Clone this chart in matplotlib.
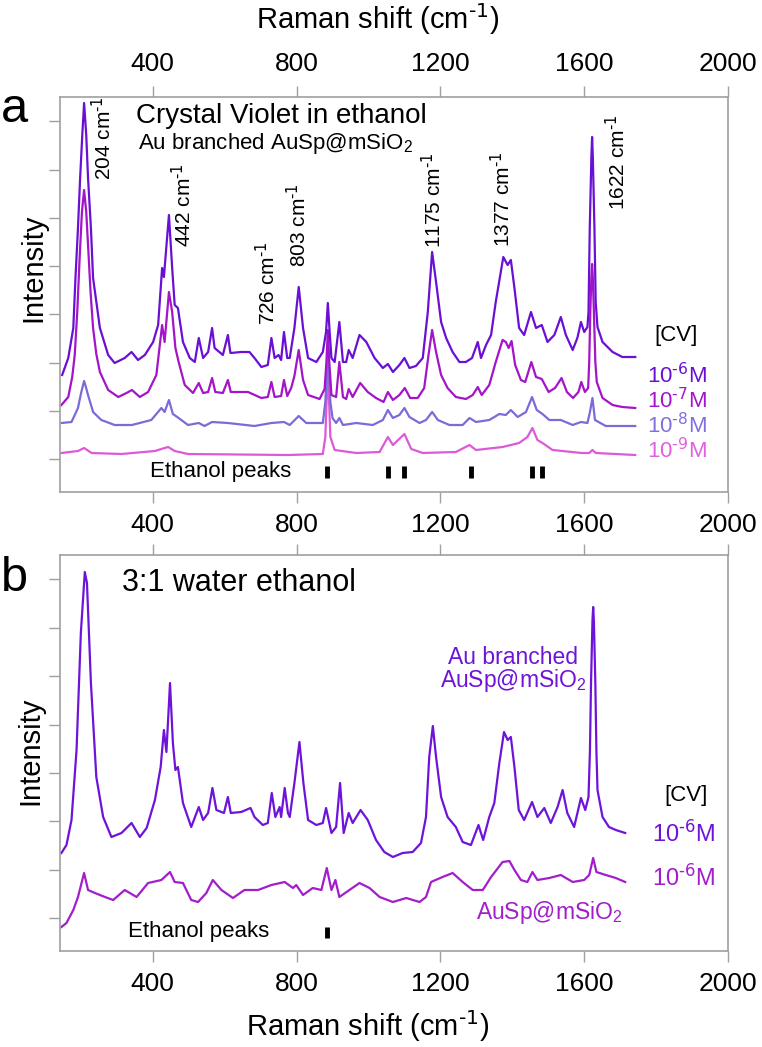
import matplotlib
matplotlib.use("Agg")
import matplotlib.pyplot as plt

plt.rcParams['font.family'] = ['Liberation Sans', 'DejaVu Sans']
plt.rcParams['mathtext.default'] = 'regular'

# ---------------- data ----------------
# Panel a: Crystal violet in ethanol, Au branched AuSp@mSiO2
a6_x = [148,165,179,185,192,198,204,209,215,220,228,234,253,276,294,322,341,359,378,401,415,426,431,445,454,461,470,484,503,517,528,540,554,565,572,595,609,616,646,669,683,702,720,730,739,750,757,765,774,781,794,806,818,832,855,873,882,887,892,897,906,919,929,938,945,956,975,994,1017,1040,1054,1068,1086,1100,1114,1132,1151,1165,1177,1188,1202,1216,1234,1253,1271,1288,1304,1313,1327,1341,1354,1375,1387,1396,1406,1419,1433,1452,1466,1482,1498,1517,1535,1549,1568,1581,1591,1600,1609,1612,1615.5,1620,1622,1624,1628.5,1632,1637,1651,1679,1706,1742]
a6_y = [117,134,164,214,264,314,357,389,357,314,264,214,164,137,129,134,140,132,137,150,167,224,215,277,224,187,184,150,134,130,154,134,140,164,144,137,157,139,140,140,134,125,127,154,134,137,132,160,134,134,164,205,164,134,130,140,160,189,160,134,130,170,130,130,142,134,157,150,134,124,128,120,127,134,124,126,134,180,240,210,170,154,140,130,130,134,150,134,147,157,190,235,227,232,204,164,157,180,164,167,150,157,175,157,142,154,170,160,165,180,264,335,355,335,264,190,165,150,140,135,135]

a7_x = [146,165,176,183,190,197,203,209,215,220,227,234,243,253,276,304,327,342,364,387,410,426,433,445,454,463,472,489,512,528,540,554,565,574,595,609,617,665,702,720,730,739,757,765,774,785,794,806,818,832,864,878,883,887,891,897,910,919,929,938,945,956,977,998,1021,1042,1054,1068,1086,1101,1116,1137,1155,1167,1177,1188,1202,1220,1243,1271,1290,1304,1315,1336,1354,1373,1382,1390,1398,1408,1424,1436,1453,1466,1482,1501,1519,1537,1552,1569,1584,1592,1602,1611,1614,1617,1620,1622,1624,1627,1631,1635,1651,1679,1706,1742]
a7_y = [87,95,115,137,180,237,280,302,280,247,200,164,138,120,102,95,99,102,95,100,117,167,150,200,180,144,130,107,99,109,99,100,114,100,99,112,100,100,94,95,110,95,96,112,96,104,116,142,112,97,93,103,130,162,130,97,95,130,95,93,103,95,109,100,94,90,100,92,97,104,94,94,104,137,162,140,117,104,95,93,97,105,97,107,130,152,150,144,151,127,112,110,130,115,113,100,104,114,100,94,100,110,100,104,130,180,215,228,215,180,130,110,94,87,85,84]

a8_x = [146,174,192,200,209,214,220,234,257,294,342,396,424,433,445,456,472,498,528,544,565,609,683,730,765,781,806,827,873,880,884,887,890,894,900,910,919,929,966,1012,1040,1054,1068,1086,1100,1114,1142,1160,1177,1193,1225,1262,1281,1299,1336,1364,1382,1396,1415,1438,1455,1468,1484,1503,1535,1568,1591,1609,1616,1623,1630,1660,1742]
a8_y = [69,70,84,98,111,105,97,80,72,67,67,72,84,80,92,78,74,67,69,66,70,69,66,69,70,67,76,69,69,90,120,145,120,90,74,69,74,67,69,67,72,82,74,77,84,75,69,72,80,72,67,67,74,70,72,78,77,82,75,80,95,82,78,72,72,67,70,69,80,94,72,66,66]

a9_x = [146,192,209,230,313,406,433,443,461,498,776,873,880,884,887,890,894,906,966,1031,1054,1068,1100,1119,1151,1243,1281,1299,1373,1419,1442,1456,1470,1484,1512,1593,1614,1623,1632,1742]
a9_y = [39,41,44,39,38,41,44,45,41,38,37,38,55,95,132,95,55,42,39,40,55,47,58,43,39,40,47,42,45,49,55,64,52,49,42,39,39,42,39,37]

# Panel b: 3:1 water ethanol
b1_x = [146,160,174,188,200,211,217,228,243,262,285,313,341,364,383,406,422,431,438,448,456,463,470,484,507,528,540,554,566,577,598,609,617,646,672,683,706,720,731,741,753,757,767,776,781,794,808,819,832,855,873,882,897,910,921,931,945,956,978,998,1021,1044,1068,1095,1123,1146,1160,1169,1179,1188,1202,1220,1243,1262,1285,1306,1319,1336,1350,1364,1377,1387,1396,1406,1418,1433,1455,1470,1489,1507,1526,1540,1553,1572,1591,1603,1612,1616,1619,1623,1625,1627,1631,1634,1637,1651,1669,1688,1714]
b1_y = [78,86,111,181,298,359,348,248,154,114,94,98,108,94,103,131,164,201,179,248,188,161,164,128,104,124,111,118,143,121,118,134,118,119,123,114,106,108,138,114,124,114,143,118,114,148,189,148,111,106,108,123,98,104,148,98,118,108,121,111,91,79,74,78,79,88,114,174,205,174,134,114,104,89,86,106,91,114,128,168,199,191,194,164,121,111,129,114,123,108,124,141,118,104,133,121,134,180,248,310,324,310,248,180,141,114,104,101,98]

b2_x = [146,160,179,192,209,220,239,267,290,322,355,387,424,448,461,484,507,526,549,567,591,623,655,693,730,767,790,799,818,845,869,884,897,908,919,947,975,1003,1031,1068,1105,1142,1160,1174,1206,1234,1262,1290,1318,1341,1373,1392,1406,1424,1442,1456,1470,1503,1535,1568,1600,1614,1625,1634,1660,1688,1714]
b2_y = [4,8,21,34,58,41,38,34,31,41,34,48,51,59,49,48,31,29,38,51,41,33,41,41,46,49,43,46,36,43,41,63,41,51,34,41,48,43,34,29,33,29,34,49,54,58,49,41,41,54,69,70,61,51,49,59,51,53,56,49,51,56,73,59,56,53,49]

ethanol_peaks_a = [885, 1055, 1100, 1285, 1455, 1483]
ethanol_peaks_b = [886]

peak_labels = ['204', '442', '726', '803', '1175', '1377', '1622']
conc_labels = ['-6', '-7', '-8', '-9']
xticks = [400, 800, 1200, 1600, 2000]
yticks_a = [33, 81, 129, 178, 226, 274, 322, 371]
yticks_b = [13, 61, 110, 158, 206, 255, 303, 352]

# ---------------- styling ----------------
C6 = '#6a10d4'
C7 = '#a414c8'
C8 = '#7c6ad8'
C9 = '#dc5ad8'
CB1 = '#6e14d8'
CB2 = '#a31ecb'
FRAME = '#a0a0a0'
LW = 1.6

W, H = 762, 1047
fig = plt.figure(figsize=(W / 100, H / 100), dpi=100)


def px_axes(left, top, right, bottom):
    return fig.add_axes([left / W, 1 - bottom / H, (right - left) / W, (bottom - top) / H])


def sup(s):
    return r'$^{\text{' + s + '}}$'


axA = px_axes(60, 97, 728, 492)
axB = px_axes(60, 555, 728, 951)

for ax, yt, ylim in ((axA, yticks_a, (0, 395)), (axB, yticks_b, (-20, 376))):
    ax.set_xlim(142, 2000)
    ax.set_ylim(*ylim)
    ax.set_xticks(xticks)
    ax.set_yticks(yt)
    for s in ax.spines.values():
        s.set_color(FRAME)
        s.set_linewidth(1.2)
    ax.tick_params(axis='both', which='both', direction='out', length=8, width=1,
                   color=FRAME, labelsize=19, pad=7)
    ax.tick_params(axis='y', left=True, right=False, labelleft=False)

axA.tick_params(axis='x', top=True, bottom=True, labeltop=True, labelbottom=True)
axB.tick_params(axis='x', top=True, bottom=True, labeltop=False, labelbottom=True)

# panel a spectra
axA.plot(a9_x, a9_y, color=C9, lw=LW)
axA.plot(a8_x, a8_y, color=C8, lw=LW)
axA.plot(a7_x, a7_y, color=C7, lw=LW)
axA.plot(a6_x, a6_y, color=C6, lw=LW)
axA.vlines(ethanol_peaks_a, 14, 26, color='black', lw=3.5)

# panel b spectra
axB.plot(b2_x, b2_y, color=CB2, lw=LW)
axB.plot(b1_x, b1_y, color=CB1, lw=LW)
axB.vlines(ethanol_peaks_b, -7, 4, color='black', lw=3.5)

# peak labels in panel a (x position, bottom of text)
peak_pos = [(261, 312), (483, 245), (719, 167), (803, 225), (1178, 244), (1372, 245), (1692, 282)]
for lab, (px, py) in zip(peak_labels, peak_pos):
    axA.text(px, py, lab + ' cm' + sup('-1'), rotation=90, ha='center', va='bottom', fontsize=15)

axA.text(353, 369, 'Crystal Violet in ethanol', fontsize=20, va='baseline')
axA.text(358, 343, 'Au branched AuSp@mSiO$_2$', fontsize=16, va='baseline')
axA.text(1856, 157, '[CV]', fontsize=16, ha='center', va='center')
conc_y = [116, 91, 66, 41]
conc_c = [C6, C7, '#8070e0', '#e060e0']
for lab, yy, cc in zip(conc_labels, conc_y, conc_c):
    axA.text(1775, yy, '10' + sup(lab) + 'M', fontsize=16, color=cc, va='center')
axA.text(392, 20, 'Ethanol peaks', fontsize=16, va='center')

axB.text(314, 340, '3:1 water ethanol', fontsize=22, va='baseline')
axB.text(1403, 274, 'Au branched', fontsize=16.5, color=CB1, ha='center', va='center')
axB.text(1403, 250, 'AuSp@mSiO$_2$', fontsize=16.5, color=CB1, ha='center', va='center')
axB.text(1883, 136, '[CV]', fontsize=16, ha='center', va='center')
axB.text(1789, 98, '10' + sup('-6') + 'M', fontsize=17, color=CB1, va='center')
axB.text(1789, 54, '10' + sup('-6') + 'M', fontsize=17, color=CB2, va='center')
axB.text(1300, 19, 'AuSp@mSiO$_2$', fontsize=16.5, color=CB2, va='center')
axB.text(331, -1, 'Ethanol peaks', fontsize=16, va='center')

# figure-level labels
fig.text(378 / W, 1 - 19 / H, 'Raman shift (cm' + sup('-1') + ')', fontsize=21, ha='center', va='center')
fig.text(368 / W, 1 - 1026 / H, 'Raman shift (cm' + sup('-1') + ')', fontsize=21, ha='center', va='center')
fig.text(33 / W, 1 - 268 / H, 'Intensity', fontsize=21, rotation=90, ha='center', va='center')
fig.text(30 / W, 1 - 751 / H, 'Intensity', fontsize=21, rotation=90, ha='center', va='center')
fig.text(14 / W, 1 - 122 / H, 'a', fontsize=35, ha='center', va='baseline')
fig.text(14 / W, 1 - 591 / H, 'b', fontsize=35, ha='center', va='baseline')

fig.savefig('out.png', dpi=100)
